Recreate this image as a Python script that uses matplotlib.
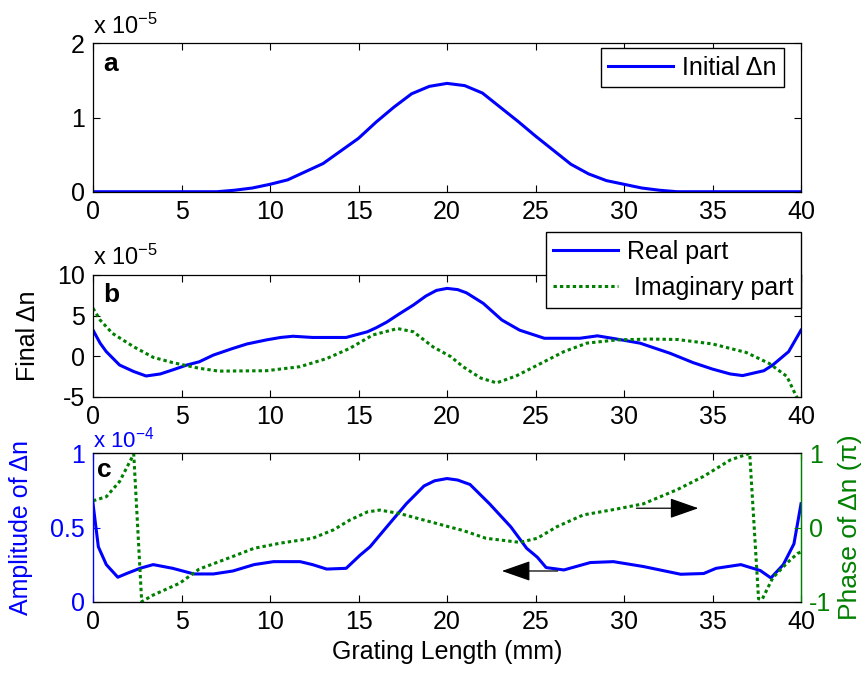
import matplotlib
matplotlib.use("Agg")
import matplotlib.pyplot as plt
import numpy as np

plt.rcParams['font.family'] = ['Liberation Sans', 'DejaVu Sans']
plt.rcParams['mathtext.fontset'] = 'custom'
plt.rcParams['mathtext.rm'] = 'Liberation Sans'
plt.rcParams['mathtext.default'] = 'regular'
plt.rcParams['axes.unicode_minus'] = False
plt.rcParams['font.size'] = 18

# panel a: initial index modulation (x 1e-5)
xa = [0, 7, 8, 9, 10, 11, 12, 13, 14, 15, 16, 17, 18, 19, 20, 21, 22, 23,
      24, 25, 26, 27, 28, 29, 30, 31, 32, 33, 40]
ya = [0, 0, 0.02, 0.05, 0.10, 0.16, 0.27, 0.38, 0.55, 0.72, 0.94, 1.14, 1.32,
      1.42, 1.46, 1.43, 1.33, 1.14, 0.95, 0.75, 0.56, 0.37, 0.24, 0.15, 0.10,
      0.05, 0.02, 0, 0]

# panel b: final index modulation (x 1e-5)
xb_re = [0, 0.4, 0.75, 1.5, 2.3, 3.0, 3.8, 4.5, 5.3, 6.0, 6.8, 7.9, 8.7, 9.8,
         10.6, 11.3, 12.4, 14.3, 15.5, 16.0, 16.6, 17.3, 18.1, 18.8, 19.4, 20,
         20.6, 21.1, 22.05, 23.1, 24.1, 25.5, 27.5, 28.5, 29.6, 30.9, 32.6,
         33.9, 35, 36, 36.7, 37.9, 38.4, 39.3, 40]
yb_re = [3.2, 1.6, 0.55, -1.1, -1.9, -2.45, -2.2, -1.7, -1.1, -0.7, 0.13, 0.95,
         1.5, 2.0, 2.3, 2.45, 2.3, 2.3, 3.0, 3.5, 4.2, 5.2, 6.3, 7.4, 8.1, 8.35,
         8.2, 7.8, 6.5, 4.45, 3.2, 2.2, 2.2, 2.5, 2.1, 1.6, 0.35, -0.8, -1.6,
         -2.2, -2.4, -1.8, -1.1, 0.55, 3.2]
xb_im = [0, 0.4, 1.1, 2.3, 3.4, 4.5, 6.0, 7.1, 9.8, 11.7, 13.2, 14.5, 15.8,
         17.2, 18.1, 19.2, 20.2, 20.9, 21.9, 22.8, 23.9, 25.3, 26.6, 27.9,
         29.6, 31.5, 33.0, 35.0, 36.9, 38.2, 39.2, 39.7, 40]
yb_im = [5.9, 4.45, 2.8, 1.15, -0.15, -0.8, -1.5, -1.85, -1.8, -1.3, -0.3, 0.95,
         2.6, 3.4, 3.0, 1.15, -0.05, -1.3, -2.7, -3.3, -2.45, -0.9, 0.55, 1.6,
         2.0, 2.1, 2.05, 1.5, 0.45, -0.9, -2.5, -4.8, -6.0]

# panel c: amplitude (x 1e-4) and phase (units of pi)
xc_amp = [0, 0.3, 0.75, 1.4, 1.9, 2.65, 3.4, 4.5, 5.7, 6.8, 7.9, 9.1, 10.2,
          11.7, 12.4, 13.2, 14.3, 15.1, 15.65, 16.6, 17.7, 18.7, 19.3, 20,
          20.6, 21.3, 22.4, 23.6, 24.5, 25.1, 25.6, 26.6, 28.1, 29.4, 31.1,
          33.2, 34.5, 35.2, 36.6, 37.7, 38.3, 39.0, 39.6, 40]
yc_amp = [0.66, 0.37, 0.25, 0.165, 0.19, 0.225, 0.25, 0.225, 0.187, 0.187,
          0.207, 0.25, 0.27, 0.27, 0.25, 0.22, 0.225, 0.315, 0.37, 0.505, 0.66,
          0.78, 0.815, 0.83, 0.82, 0.79, 0.66, 0.505, 0.36, 0.30, 0.23, 0.214,
          0.264, 0.27, 0.237, 0.185, 0.19, 0.225, 0.25, 0.21, 0.16, 0.25, 0.39,
          0.66]
xc_ph = [0, 0.75, 1.5, 2.3, 2.75, 3.4, 4.9, 6.0, 7.9, 9.1, 10.6, 12.4, 13.6,
         14.5, 15.5, 16.2, 17.3, 18.7, 20.1, 20.9, 22.2, 24.1, 25.1, 26.2, 27.7,
         29.6, 31.1, 33.0, 34.5, 36.0, 37.1, 37.6, 37.8, 38.4, 39.2, 39.8, 40]
yc_ph = [0.36, 0.415, 0.62, 0.99, -1.0, -0.91, -0.75, -0.56, -0.39, -0.28,
         -0.21, -0.145, -0.03, 0.10, 0.21, 0.235, 0.19, 0.10, 0.01, -0.04,
         -0.145, -0.2, -0.145, 0.01, 0.17, 0.25, 0.32, 0.51, 0.69, 0.91, 1.0,
         -0.96, -0.97, -0.68, -0.48, -0.35, -0.33]

xticks = [0, 5, 10, 15, 20, 25, 30, 35, 40]
blue = (0, 0, 1)
green = (0, 0.5, 0)
dots = (0, (1.1, 1.0))

fig = plt.figure(figsize=(8.67, 6.76), dpi=100)
ax1 = fig.add_axes([0.1073, 0.7164, 0.8166, 0.2195])
ax2 = fig.add_axes([0.1073, 0.4132, 0.8166, 0.1800])
ax3 = fig.add_axes([0.1073, 0.1099, 0.8166, 0.2195])
ax3r = ax3.twinx()

for ax in (ax1, ax2, ax3):
    ax.set_xlim(0, 40)
    ax.set_xticks(xticks)
    for s in ax.spines.values():
        s.set_linewidth(0.9)
    ax.tick_params(direction='in', length=5, width=0.8, pad=6, top=True)
ax3r.spines['right'].set_linewidth(0.9)

# panel a
ax1.plot(xa, ya, color=blue, lw=2.2, label='Initial Δn')
ax1.set_ylim(0, 2)
ax1.set_yticks([0, 1, 2])
ax1.tick_params(right=True)
leg = ax1.legend(loc='upper right', bbox_to_anchor=(0.976, 0.968),
                 borderaxespad=0, fancybox=False, edgecolor='black',
                 framealpha=1, handlelength=2.6, handletextpad=0.35,
                 borderpad=0.3)
leg.get_frame().set_linewidth(1.0)
ax1.text(0.015, 0.86, 'a', transform=ax1.transAxes, fontweight='bold',
         fontsize=19, va='center')
ax1.annotate('x 10$^{-5}$', xy=(0, 1), xycoords='axes fraction',
             xytext=(0, 7), textcoords='offset points', va='baseline',
             fontsize=17)

# panel b
ax2.plot(xb_re, yb_re, color=blue, lw=2.2, label='Real part')
ax2.plot(xb_im, yb_im, color=green, lw=2.2, ls=dots, label=' Imaginary part')
ax2.set_ylim(-5, 10)
ax2.set_yticks([-5, 0, 5, 10])
ax2.tick_params(right=True)
ax2.set_ylabel('Final Δn')
ax2.yaxis.set_label_coords(-0.075, 0.5)
leg = ax2.legend(loc='upper right', bbox_to_anchor=(1.0, 1.353),
                 borderaxespad=0, fancybox=False, edgecolor='black',
                 framealpha=1, handlelength=2.6, handletextpad=0.35,
                 borderpad=0.3, labelspacing=0.5)
leg.get_frame().set_linewidth(1.0)
ax2.text(0.015, 0.836, 'b', transform=ax2.transAxes, fontweight='bold',
         fontsize=19, va='center')
ax2.annotate('x 10$^{-5}$', xy=(0, 1), xycoords='axes fraction',
             xytext=(0, 7), textcoords='offset points', va='baseline',
             fontsize=17)

# panel c
ax3.plot(xc_amp, yc_amp, color=blue, lw=2.2)
ax3r.plot(xc_ph, yc_ph, color=green, lw=2.2, ls=dots)
ax3.set_ylim(0, 1)
ax3.set_yticks([0, 0.5, 1])
ax3.set_yticklabels(['0', '0.5', '1'])
ax3r.set_ylim(-1, 1)
ax3r.set_yticks([-1, 0, 1])
ax3.tick_params(axis='y', colors=blue)
ax3r.tick_params(axis='y', colors=green, direction='in', length=5, width=0.8, pad=6)
ax3.spines['left'].set_color(blue)
ax3r.spines['left'].set_color(blue)
ax3.spines['right'].set_color(green)
ax3r.spines['right'].set_color(green)
ax3.set_ylabel('Amplitude of Δn', color=blue)
ax3.yaxis.set_label_coords(-0.085, 0.5)
ax3r.set_ylabel('Phase of Δn (π)', color=green, rotation=90, fontsize=19)
ax3r.yaxis.set_label_coords(1.052, 0.5)
ax3.set_xlabel('Grating Length (mm)')
ax3.text(0.006, 0.89, 'c', transform=ax3.transAxes, fontweight='bold',
         fontsize=19, va='center')
ax3.annotate('x 10$^{-4}$', xy=(0, 1), xycoords='axes fraction',
             xytext=(0, 4), textcoords='offset points', va='baseline',
             color=blue, fontsize=16)

arrow = dict(arrowstyle='-|>,head_length=1.0,head_width=0.35', color='black',
             lw=0.9, shrinkA=0, shrinkB=0)
ax3r.annotate('', xy=(34.2, 0.26), xytext=(30.7, 0.26), arrowprops=arrow)
ax3.annotate('', xy=(23.1, 0.207), xytext=(26.25, 0.207), arrowprops=arrow)

fig.savefig('out.png', dpi=100)
